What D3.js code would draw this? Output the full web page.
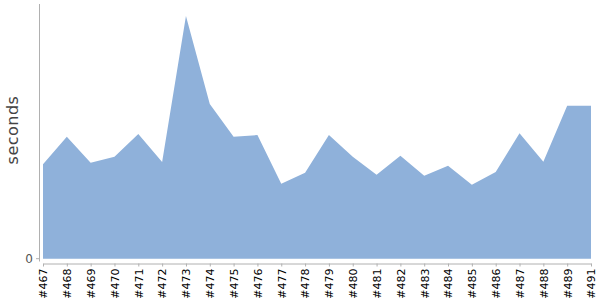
<!DOCTYPE html>
<html><head><meta charset="utf-8">
<script src="https://cdn.jsdelivr.net/npm/d3@7"></script>
<style>body{margin:0;background:#fff}svg{display:block}</style>
</head><body><svg id="c" width="600" height="300"></svg>
<script>
const builds = ["#467","#468","#469","#470","#471","#472","#473","#474","#475","#476","#477","#478","#479","#480","#481","#482","#483","#484","#485","#486","#487","#488","#489","#491"];
const seconds = [47.2,61,48,51,62.3,48.3,121.3,77.3,61,61.8,37.5,43,61.8,51,42,51.5,41.5,46.5,37,43.3,62.7,48.5,76.5,76.5];
const yTicks = [0];

const svg = d3.select("#c");
const x = d3.scalePoint().domain(builds).range([43, 591]);
const y = d3.scaleLinear().domain([0, 127.3]).range([258.7, 4]);

const data = builds.map((b, i) => ({b, v: seconds[i]}));
svg.append("path").datum(data)
  .attr("fill", "#8fb1da")
  .attr("d", d3.area().x(d => x(d.b)).y0(y(0)).y1(d => y(d.v)));

// y axis
svg.append("line").attr("x1", 39.5).attr("x2", 39.5).attr("y1", 4).attr("y2", 261.5)
  .attr("stroke", "#b0b0b0").attr("stroke-width", 1);
yTicks.forEach(t => {
  svg.append("line").attr("x1", 36).attr("x2", 39.5).attr("y1", y(t)).attr("y2", y(t))
    .attr("stroke", "#b0b0b0");
  svg.append("text").attr("x", 33).attr("y", y(t)).attr("dy", "0.35em")
    .attr("text-anchor", "end").attr("font-family", "DejaVu Sans").attr("font-size", 12)
    .attr("fill", "#555").text(t);
});
svg.append("text").attr("transform", "translate(18,130) rotate(-90)")
  .attr("text-anchor", "middle").attr("font-family", "DejaVu Sans").attr("font-size", 16)
  .attr("letter-spacing", 0.5).attr("fill", "#444").text("seconds");

// x axis
const xAxis = svg.append("g").attr("transform", "translate(0,263.5)")
  .call(d3.axisBottom(x).tickSize(3).tickSizeOuter(0).tickPadding(3));
xAxis.select(".domain").attr("stroke", "#b0b0b0");
xAxis.selectAll(".tick line").attr("stroke", "#b0b0b0");
xAxis.selectAll(".tick text")
  .attr("font-family", "DejaVu Sans").attr("font-size", 11).attr("fill", "#000")
  .attr("transform", "rotate(-90)")
  .attr("text-anchor", "end").attr("x", -5).attr("y", 0).attr("dy", "0.35em");
</script></body></html>
